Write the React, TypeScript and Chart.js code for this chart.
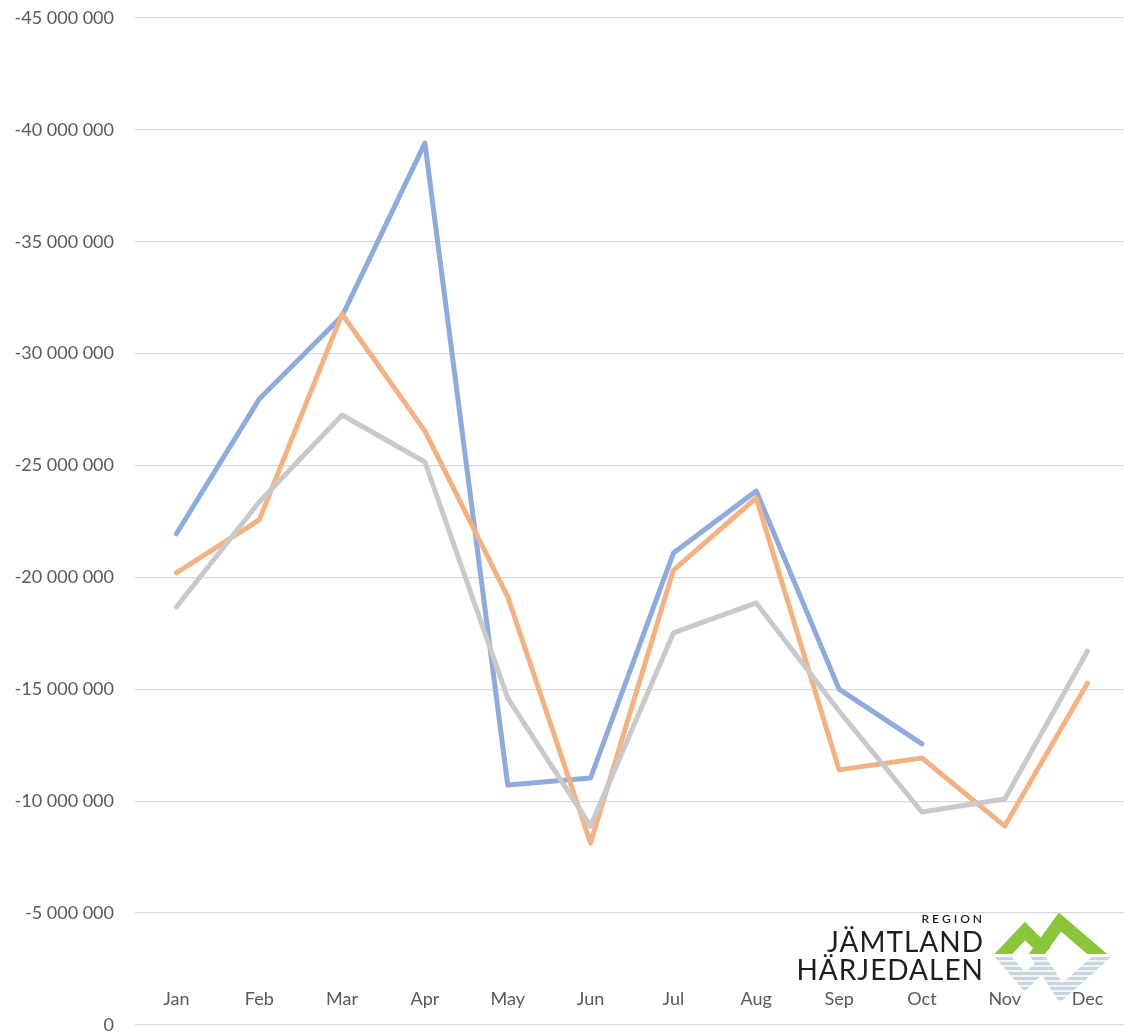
import React, { useEffect, useRef } from "react";
import { Chart, registerables } from "chart.js";

Chart.register(...registerables);

const months = ["Jan", "Feb", "Mar", "Apr", "May", "Jun", "Jul", "Aug", "Sep", "Oct", "Nov", "Dec"];
const blueValues = [-21950000, -27970000, -31680000, -39410000, -10720000, -11040000, -21090000, -23860000, -15010000, -12560000, null, null];
const orangeValues = [-20200000, -22570000, -31770000, -26540000, -19130000, -8130000, -20330000, -23550000, -11400000, -11930000, -8890000, -15280000];
const greyValues = [-18680000, -23370000, -27260000, -25160000, -14610000, -8890000, -17520000, -18860000, -14030000, -9520000, -10100000, -16710000];
const yMin = -45000000;
const yMax = 0;
const yStep = 5000000;

const fmt = (v: number) => {
  const s = Math.abs(Math.round(v)).toString().replace(/\B(?=(\d{3})+(?!\d))/g, " ");
  return (v < 0 ? "-" : "") + s;
};

const logoPlugin = {
  id: "logo",
  beforeDraw(chart: any) {
    const ctx = chart.ctx as CanvasRenderingContext2D;
    ctx.save();
    ctx.fillStyle = "#ffffff";
    ctx.fillRect(790, 914, 320, 92);
    ctx.fillStyle = "#1e1e1e";
    ctx.textAlign = "right";
    ctx.textBaseline = "alphabetic";
    ctx.font = "600 12px Lato";
    const reg = "REGION";
    let x = 982;
    for (let i = reg.length - 1; i >= 0; i--) {
      const w = ctx.measureText(reg[i]).width;
      ctx.fillText(reg[i], x, 923);
      x -= w + 3;
    }
    ctx.font = "400 28px Lato";
    (ctx as any).letterSpacing = "1px";
    ctx.fillText("JÄMTLAND", 984, 952);
    ctx.fillText("HÄRJEDALEN", 984, 980);
    (ctx as any).letterSpacing = "0px";
    // reflection
    ctx.save();
    ctx.beginPath();
    ctx.rect(990, 957, 120, 45);
    ctx.clip();
    ctx.strokeStyle = "#c8d5e1";
    ctx.lineWidth = 13;
    ctx.lineJoin = "miter";
    ctx.beginPath();
    ctx.moveTo(999, 952);
    ctx.lineTo(1025, 982);
    ctx.lineTo(1046, 962);
    ctx.stroke();
    ctx.beginPath();
    ctx.moveTo(1035, 952);
    ctx.lineTo(1061, 993);
    ctx.lineTo(1107, 952);
    ctx.stroke();
    ctx.strokeStyle = "#ffffff";
    ctx.lineWidth = 1.5;
    for (let y = 961; y < 1002; y += 5) {
      ctx.beginPath();
      ctx.moveTo(990, y);
      ctx.lineTo(1110, y);
      ctx.stroke();
    }
    ctx.restore();
    // green mountains
    ctx.save();
    ctx.beginPath();
    ctx.rect(994, 905, 118, 49);
    ctx.clip();
    ctx.strokeStyle = "#8cc43c";
    ctx.lineWidth = 13;
    ctx.lineJoin = "miter";
    ctx.beginPath();
    ctx.moveTo(993, 965);
    ctx.lineTo(1025, 931);
    ctx.lineTo(1046, 952);
    ctx.stroke();
    ctx.beginPath();
    ctx.moveTo(1031, 962);
    ctx.lineTo(1060, 922);
    ctx.lineTo(1110, 965);
    ctx.stroke();
    ctx.restore();
    ctx.restore();
  },
};

export default function App() {
  const ref = useRef<HTMLCanvasElement>(null);
  useEffect(() => {
    if (!ref.current) return;
    const chart = new Chart(ref.current, {
      type: "line",
      data: {
        labels: months,
        datasets: [
          { label: "Blue", data: blueValues, borderColor: "#8faadc", order: 2 },
          { label: "Orange", data: orangeValues, borderColor: "#f4b183", order: 1 },
          { label: "Grey", data: greyValues, borderColor: "#c9c9c9", order: 0 },
        ].map((d) => ({
          ...d,
          borderWidth: 5,
          borderCapStyle: "round" as const,
          borderJoinStyle: "round" as const,
          pointRadius: 0,
          pointHoverRadius: 0,
          tension: 0,
          fill: false,
          spanGaps: false,
        })),
      },
      options: {
        animation: false,
        responsive: false,
        maintainAspectRatio: false,
        layout: { padding: { top: 18, right: 0, left: 0, bottom: 0 } },
        plugins: { legend: { display: false }, tooltip: { enabled: false } },
        scales: {
          x: {
            offset: true,
            grid: { display: false, drawTicks: false },
            border: { display: false },
            ticks: {
              mirror: true,
              padding: 15,
              color: "#595959",
              font: { family: "Lato", size: 18 },
              maxRotation: 0,
              autoSkip: false,
            },
            afterFit: (s: any) => {
              s.height = 0;
            },
          },
          y: {
            reverse: true,
            min: yMin,
            max: yMax,
            grid: {
              color: "#d9d9d9",
              lineWidth: 1.3,
              drawTicks: true,
              tickLength: 21,
              tickColor: "rgba(0,0,0,0)",
            },
            border: { display: false },
            ticks: {
              stepSize: yStep,
              padding: 0,
              color: "#595959",
              font: { family: "Lato", size: 18, lineHeight: 1.0 },
              callback: (v: any) => fmt(Number(v)),
            },
            afterFit: (s: any) => {
              s.width = 135;
            },
          },
        },
      },
      plugins: [logoPlugin],
    });
    return () => chart.destroy();
  }, []);
  return (
    <div style={{ position: "fixed", left: 0, top: 0, width: 1124, height: 1034, overflow: "hidden", background: "#fff" }}>
      <canvas ref={ref} width={1129} height={1034} style={{ display: "block" }} />
    </div>
  );
}
